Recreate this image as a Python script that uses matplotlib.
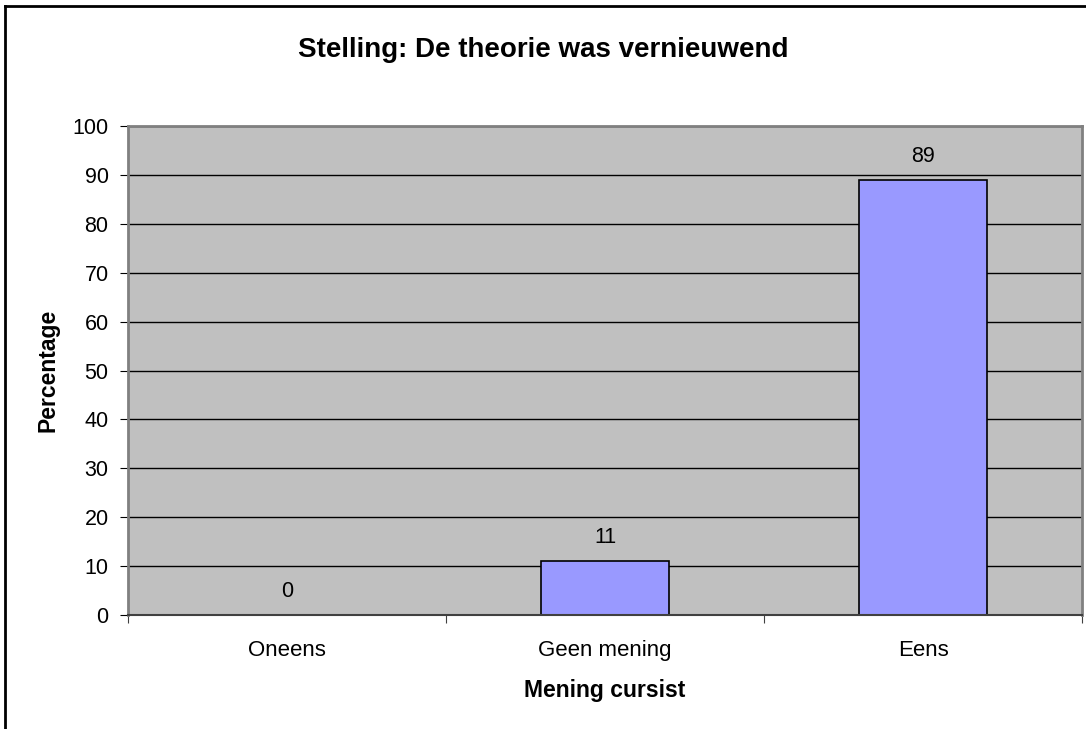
import matplotlib.pyplot as plt
from matplotlib.lines import Line2D

# data
categories = ['Oneens', 'Geen mening', 'Eens']
percentages = [0, 11, 89]
yticks = [0, 10, 20, 30, 40, 50, 60, 70, 80, 90, 100]

plt.rcParams['font.family'] = ['Liberation Sans', 'DejaVu Sans']

fig = plt.figure(figsize=(10.86, 7.29), dpi=100)
ax = fig.add_axes([128 / 1086, 1 - 615 / 729, 954 / 1086, 489 / 729])
ax.set_facecolor('#C0C0C0')

x = list(range(len(categories)))
ax.bar(x, percentages, width=0.4, color='#9999FF', edgecolor='black',
       linewidth=1.2, zorder=2)

for xi, v in zip(x, percentages):
    ax.annotate(str(v), (xi, v), xytext=(0, 17), textcoords='offset points',
                ha='center', va='center', fontsize=15.5)

ax.set_xlim(-0.5, 2.5)
ax.set_ylim(0, 100)
ax.set_yticks(yticks)
ax.tick_params(axis='y', labelsize=15.5, length=6, direction='out', pad=8)
ax.set_xticks([-0.5, 0.5, 1.5, 2.5])
ax.set_xticklabels([])
ax.set_xticks(x, minor=True)
ax.set_xticklabels(categories, minor=True)
ax.tick_params(axis='x', which='major', length=6, direction='out', color='#404040')
ax.tick_params(axis='x', which='minor', length=0, labelsize=16, pad=18)

ax.yaxis.grid(True, color='black', linewidth=1)
ax.set_axisbelow(True)

for side in ['left', 'top', 'right']:
    ax.spines[side].set_color('#808080')
    ax.spines[side].set_linewidth(2)
ax.spines['bottom'].set_color('#404040')
ax.spines['bottom'].set_linewidth(1.5)

# title is centred on the whole chart, not the plot area
fig.text(0.5, 1 - 57 / 729, 'Stelling: De theorie was vernieuwend', fontsize=20,
         fontweight='bold', ha='center', va='baseline')
ax.set_xlabel('Mening cursist', fontsize=16.5, fontweight='bold', labelpad=13)
ax.set_ylabel('Percentage', fontsize=16.5, fontweight='bold', labelpad=9)

# chart outer border (top and left visible)
fig.add_artist(Line2D([5 / 1086, 5 / 1086], [0, 1 - 6 / 729],
                      transform=fig.transFigure, color='black', linewidth=2))
fig.add_artist(Line2D([5 / 1086, 1], [1 - 6 / 729, 1 - 6 / 729],
                      transform=fig.transFigure, color='black', linewidth=2))

fig.savefig('out.png', dpi=100)
